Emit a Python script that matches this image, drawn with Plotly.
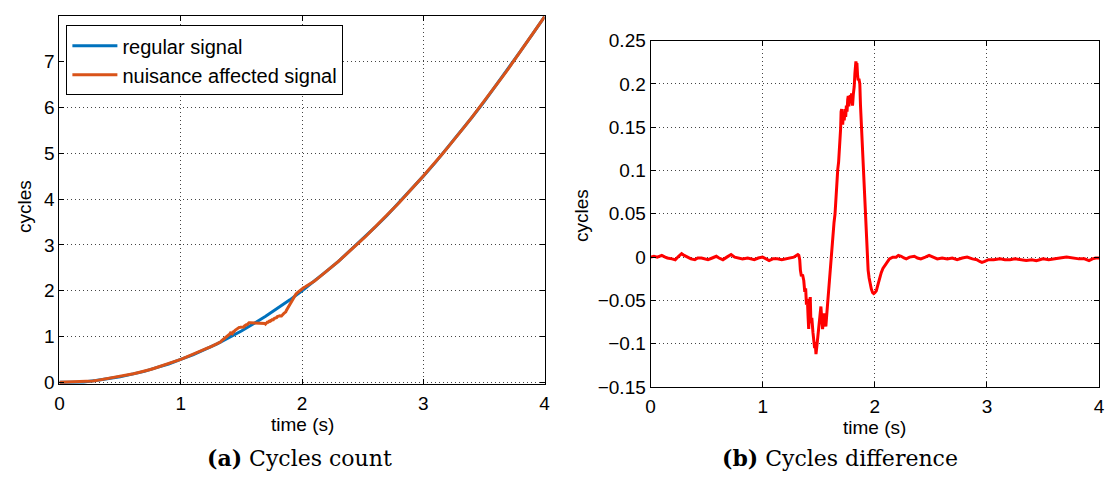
import numpy as np
import plotly.graph_objects as go

# ---------------- data ----------------
reg_t = [0.0, 0.1, 0.2, 0.3, 0.4, 0.5, 0.6, 0.7, 0.8, 0.9, 1.0,
         1.1, 1.2, 1.3, 1.4, 1.5, 1.6, 1.7, 1.8, 1.9, 2.0,
         2.1, 2.2, 2.3, 2.4, 2.5, 2.6, 2.7, 2.8, 2.9, 3.0,
         3.1, 3.2, 3.3, 3.4, 3.5, 3.6, 3.7, 3.8, 3.9, 4.0]
reg_v = [0.00, 0.01, 0.01, 0.04, 0.08, 0.12, 0.18, 0.24, 0.32, 0.40, 0.50,
         0.60, 0.72, 0.84, 0.98, 1.12, 1.28, 1.44, 1.62, 1.80, 2.00,
         2.20, 2.42, 2.64, 2.88, 3.12, 3.38, 3.64, 3.92, 4.20, 4.50,
         4.80, 5.12, 5.44, 5.78, 6.12, 6.48, 6.84, 7.22, 7.60, 7.98]

diff_t = [0.00, 0.03, 0.06, 0.10, 0.13, 0.15, 0.19, 0.22, 0.25, 0.277, 0.30,
          0.336, 0.36, 0.395, 0.42, 0.454, 0.48, 0.512, 0.55, 0.586, 0.61,
          0.645, 0.68, 0.718, 0.75, 0.777, 0.82, 0.866, 0.90, 0.925, 0.96,
          0.998, 1.03, 1.057, 1.09, 1.13, 1.17, 1.219, 1.25, 1.277, 1.30,
          1.313, 1.322, 1.33, 1.336, 1.345, 1.355, 1.366, 1.375, 1.383, 1.39,
          1.398, 1.405, 1.41, 1.417, 1.424, 1.43, 1.438, 1.448, 1.455, 1.463,
          1.468, 1.475, 1.482, 1.49, 1.498, 1.505, 1.512, 1.519, 1.526, 1.534,
          1.541, 1.548, 1.555, 1.563, 1.57, 1.578, 1.59, 1.601, 1.608, 1.616,
          1.625, 1.636, 1.645, 1.654, 1.662, 1.669, 1.677, 1.684, 1.69, 1.695,
          1.699, 1.704, 1.709, 1.713, 1.72, 1.727, 1.734, 1.74, 1.746, 1.752,
          1.758, 1.763, 1.768, 1.772, 1.78, 1.786, 1.792, 1.797, 1.801, 1.808,
          1.816, 1.822, 1.828, 1.831, 1.836, 1.84, 1.846, 1.851, 1.858, 1.866,
          1.872, 1.881, 1.89, 1.897, 1.903, 1.91, 1.919, 1.931, 1.94, 1.949,
          1.96, 1.969, 1.98, 1.99, 2.0, 2.013, 2.027, 2.042, 2.057, 2.072,
          2.087, 2.10, 2.115, 2.13, 2.16, 2.19, 2.21, 2.235, 2.26, 2.28,
          2.31, 2.352, 2.38, 2.41, 2.45, 2.484, 2.52, 2.557, 2.60, 2.646,
          2.69, 2.734, 2.78, 2.823, 2.87, 2.91, 2.935, 2.955, 2.98, 3.014,
          3.06, 3.117, 3.16, 3.205, 3.25, 3.293, 3.32, 3.35, 3.40, 3.44,
          3.47, 3.50, 3.55, 3.59, 3.65, 3.71, 3.76, 3.82, 3.87, 3.91,
          3.94, 3.97, 4.00]
diff_v = [0.000, 0.001, 0.000, 0.002, 0.000, -0.001, -0.002, -0.003, 0.001, 0.004, 0.002,
          0.000, -0.002, -0.003, -0.001, -0.001, -0.002, -0.003, -0.001, 0.001, -0.001,
          -0.003, 0.000, 0.003, 0.000, -0.001, -0.002, -0.001, -0.002, -0.003, -0.001,
          0.000, -0.002, -0.004, -0.002, -0.002, -0.003, -0.002, -0.001, 0.000, 0.002,
          0.003, 0.002, -0.003, -0.015, -0.022, -0.020, -0.027, -0.040, -0.036, -0.055,
          -0.048, -0.070, -0.083, -0.062, -0.046, -0.076, -0.070, -0.087, -0.095, -0.105,
          -0.098, -0.112, -0.104, -0.094, -0.085, -0.076, -0.066, -0.057, -0.070, -0.083,
          -0.072, -0.065, -0.075, -0.080, -0.068, -0.054, -0.036, -0.017, -0.005, 0.016,
          0.024, 0.040, 0.050, 0.072, 0.088, 0.101, 0.110, 0.123, 0.138, 0.149,
          0.168, 0.171, 0.158, 0.153, 0.165, 0.158, 0.171, 0.162, 0.175, 0.168,
          0.182, 0.186, 0.174, 0.178, 0.187, 0.182, 0.189, 0.180, 0.175, 0.188,
          0.197, 0.212, 0.224, 0.226, 0.222, 0.224, 0.210, 0.204, 0.206, 0.200,
          0.175, 0.149, 0.123, 0.100, 0.080, 0.062, 0.027, -0.002, -0.015, -0.024,
          -0.032, -0.037, -0.041, -0.042, -0.041, -0.039, -0.032, -0.024, -0.018, -0.013,
          -0.010, -0.008, -0.004, -0.002, 0.000, 0.000, 0.002, 0.001, -0.001, -0.002,
          0.000, 0.001, -0.001, -0.002, 0.000, 0.002, 0.000, -0.002, -0.001, -0.002,
          -0.001, -0.003, -0.001, 0.000, -0.002, -0.003, -0.005, -0.006, -0.005, -0.003,
          -0.003, -0.002, -0.003, -0.003, -0.002, -0.003, -0.004, -0.004, -0.003, -0.004,
          -0.003, -0.002, -0.003, -0.002, -0.001, 0.000, -0.001, -0.002, -0.002, -0.004,
          -0.002, -0.001, -0.001]

x_ticks = [0, 1, 2, 3, 4]
y1_ticks = [0, 1, 2, 3, 4, 5, 6, 7]
y2_ticks = [-0.15, -0.1, -0.05, 0, 0.05, 0.1, 0.15, 0.2, 0.25]
y2_labels = ["\u22120.15", "\u22120.1", "\u22120.05", "0", "0.05", "0.1", "0.15", "0.2", "0.25"]

# nuisance affected signal = regular signal minus the plotted difference
t_all = np.union1d(np.array(reg_t), np.array(diff_t))
nuis_v = np.interp(t_all, reg_t, reg_v) - np.interp(t_all, diff_t, diff_v)

# ---------------- figure ----------------
W, H = 1117, 488
def px_x(p):
    return p / W
def px_y(p):
    return 1 - p / H

FONT = "Liberation Sans, Arial, sans-serif"
SERIF = "DejaVu Serif, Liberation Serif, serif"
fig = go.Figure()
fig.add_trace(go.Scatter(x=reg_t, y=reg_v, mode="lines", name="regular signal",
                         line=dict(color="#0072BD", width=3), xaxis="x", yaxis="y"))
fig.add_trace(go.Scatter(x=t_all, y=nuis_v, mode="lines", name="nuisance affected signal",
                         line=dict(color="#D95319", width=3), xaxis="x", yaxis="y"))
fig.add_trace(go.Scatter(x=diff_t, y=diff_v, mode="lines", showlegend=False,
                         line=dict(color="#FF0000", width=3), xaxis="x2", yaxis="y2"))

axis_common = dict(showline=True, linecolor="black", linewidth=1, mirror="allticks",
                   ticks="inside", ticklen=5, tickcolor="black", tickwidth=1,
                   showgrid=True, gridcolor="#444444", gridwidth=1, griddash="1px,3px",
                   zeroline=False, tickfont=dict(family=FONT, size=19, color="black"))

fig.update_layout(
    width=W, height=H, margin=dict(l=0, r=0, t=0, b=0),
    paper_bgcolor="white", plot_bgcolor="white",
    xaxis=dict(domain=[px_x(55), px_x(545)], range=[0, 4], tickvals=x_ticks,
               anchor="y", ticklabelstandoff=2, **axis_common),
    yaxis=dict(domain=[px_y(391), px_y(6)], range=[-0.04, 8.0], tickvals=y1_ticks,
               anchor="x", **axis_common),
    xaxis2=dict(domain=[px_x(652), px_x(1105)], range=[0, 4], tickvals=x_ticks,
                anchor="y2", ticklabelstandoff=2, **axis_common),
    yaxis2=dict(domain=[px_y(394), px_y(32)], range=[-0.15, 0.25], tickvals=y2_ticks,
                ticktext=y2_labels, anchor="x2", **axis_common),
    legend=dict(x=px_x(62), y=px_y(16), xanchor="left", yanchor="top",
                bgcolor="white", bordercolor="black", borderwidth=1,
                itemwidth=45, tracegroupgap=0,
                font=dict(family=FONT, size=20, color="black")),
    showlegend=True,
)

ann = [
    dict(text="cycles", x=px_x(19), y=px_y(205), textangle=-90),
    dict(text="cycles", x=px_x(582), y=px_y(215), textangle=-90),
    dict(text="time (s)", x=px_x(300), y=px_y(433)),
    dict(text="time (s)", x=px_x(878), y=px_y(436)),
]
for a in ann:
    fig.add_annotation(xref="paper", yref="paper", showarrow=False,
                       xanchor="center", yanchor="middle",
                       font=dict(family=FONT, size=19, color="black"), **a)

for txt, cx in [("<b>(a)</b> Cycles count", 297), ("<b>(b)</b> Cycles difference", 843)]:
    fig.add_annotation(xref="paper", yref="paper", showarrow=False,
                       x=px_x(cx), y=px_y(468), xanchor="center", yanchor="middle",
                       text=txt, font=dict(family=SERIF, size=22, color="black"))

fig.write_html("out.html")
